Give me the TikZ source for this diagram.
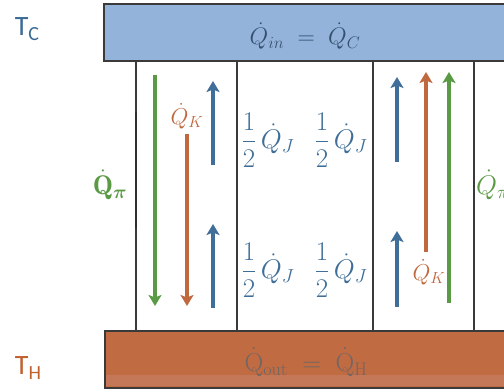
\RequirePackage{fix-cm}
\documentclass[tikz,border=0pt]{standalone}
\usepackage{amsmath,bm}
\usepackage{fontspec}
\newfontfamily\carlito{Carlito}
\usetikzlibrary{arrows.meta}
\definecolor{cblue}{HTML}{3F6F99}
\definecolor{corange}{HTML}{C0683E}
\definecolor{cgreen}{HTML}{5A9A45}
\definecolor{barblue}{HTML}{93B3DA}
\definecolor{barbrown}{HTML}{C06B42}
\definecolor{bandbrown}{HTML}{C98A72}
\definecolor{edge}{HTML}{3A3A3A}
\definecolor{tcblue}{HTML}{3D6B96}
\definecolor{thorange}{HTML}{C0622E}
\definecolor{qinblue}{HTML}{34506E}
\definecolor{qoutgray}{HTML}{726664}
\tikzset{
  flow/.style={line width=4.5pt,-{Stealth[width=13pt,length=11pt,inset=2.5pt]}},
  divider/.style={draw=edge,line width=1.4pt},
  bar/.style={draw=edge,line width=1.8pt},
  templabel/.style={font=\carlito\fontsize{28}{30}\selectfont,inner sep=0pt},
  frac/.style={text=cblue,font=\fontsize{27}{32}\selectfont,inner sep=0pt},
  qk/.style={text=corange,font=\fontsize{23}{27}\selectfont,inner sep=0pt},
  qpi/.style={text=cgreen,font=\fontsize{27}{31}\selectfont,inner sep=0pt},
}
\begin{document}
\begin{tikzpicture}[x=1pt,y=-1pt]
\clip (0,0) rectangle (504,390);
\fill[white] (0,0) rectangle (504,390);
% column dividers
\foreach \n/\x in {d1/136,d2/237,d3/373,d4/474}{
  \coordinate (\n t) at (\x,61);
  \coordinate (\n b) at (\x,331);
  \draw[divider] (\n t) -- (\n b);
}
\coordinate (dk1) at (136,112);
\coordinate (dk2) at (136,228);
\draw[edge!80!black,line width=2.6pt] (dk1) -- (dk2);
% bars
\draw[bar,fill=barblue] (104,4) rectangle (510,61);
\node[text=qinblue,font=\fontsize{24}{28}\selectfont,inner sep=0pt] (qin) at (305,36) {$\dot{Q}_{in} \;=\; \dot{Q}_{C}$};
\fill[barbrown] (105,331) rectangle (510,388);
\fill[bandbrown,opacity=0.45] (105,375) rectangle (510,386);
\draw[bar] (105,331) rectangle (510,388);
\node[text=qoutgray,font=\fontsize{26}{30}\selectfont,inner sep=0pt] (qout) at (306,362) {$\dot{\mathrm{Q}}_{\mathrm{out}} \;=\; \dot{\mathrm{Q}}_{\mathrm{H}}$};
% temperature labels
\node[templabel,text=tcblue] (tc) at (27,29) {T\raisebox{-5pt}{\fontsize{20}{22}\selectfont C}};
\node[templabel,text=thorange] (th) at (28,368) {T\raisebox{-5pt}{\fontsize{20}{22}\selectfont H}};
% left column arrows
\coordinate (g1s) at (155,75);  \coordinate (g1e) at (155,306);
\coordinate (o1s) at (187,134); \coordinate (o1e) at (187,306);
\coordinate (b1s) at (213,165); \coordinate (b1e) at (213,81);
\coordinate (b2s) at (213,308); \coordinate (b2e) at (213,224);
\draw[flow,cgreen] (g1s) -- (g1e);
\draw[flow,corange] (o1s) -- (o1e);
\draw[flow,cblue] (b1s) -- (b1e);
\draw[flow,cblue] (b2s) -- (b2e);
\node[qk] (qkl) at (187,116) {$\dot{Q}_K$};
% right column arrows
\coordinate (b3s) at (397,162); \coordinate (b3e) at (397,77);
\coordinate (b4s) at (397,307); \coordinate (b4e) at (397,231);
\coordinate (o2s) at (426,252); \coordinate (o2e) at (426,72);
\coordinate (g2s) at (449,303); \coordinate (g2e) at (449,72);
\draw[flow,cblue] (b3s) -- (b3e);
\draw[flow,cblue] (b4s) -- (b4e);
\draw[flow,corange] (o2s) -- (o2e);
\draw[flow,cgreen] (g2s) -- (g2e);
\node[qk] (qkr) at (429,272) {$\dot{Q}_K$};
% middle fractions
\node[frac] (j1) at (268,140) {$\dfrac{1}{2}\,\dot{Q}_J$};
\node[frac] (j2) at (341,140) {$\dfrac{1}{2}\,\dot{Q}_J$};
\node[frac] (j3) at (268,270) {$\dfrac{1}{2}\,\dot{Q}_J$};
\node[frac] (j4) at (341,270) {$\dfrac{1}{2}\,\dot{Q}_J$};
% Q_pi labels
\node[qpi] (qpl) at (110,185) {$\dot{\mathbf{Q}}_{\bm{\pi}}$};
\node[qpi,anchor=west] (qpr) at (476,185) {$\dot{Q}_{\pi}$};
\end{tikzpicture}
\end{document}
